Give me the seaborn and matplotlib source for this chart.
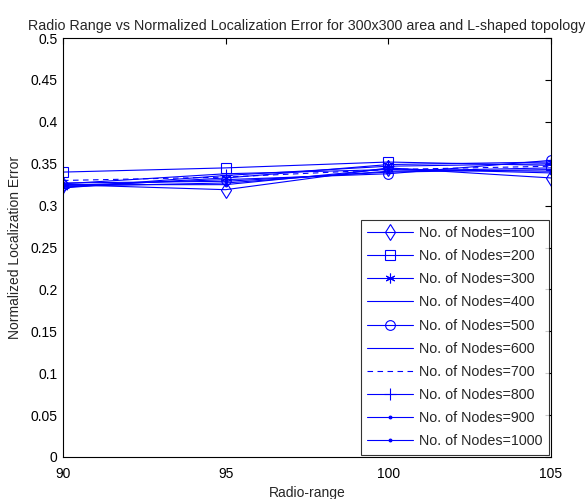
import numpy as np
import pandas as pd
import matplotlib
matplotlib.use("Agg")
import matplotlib.pyplot as plt
import seaborn as sns

# radio range on x axis
radio_range = [90, 95, 100, 105]

# normalized localization error per node count
err_100 = [0.325, 0.319, 0.345, 0.333]
err_200 = [0.340, 0.345, 0.352, 0.348]
err_300 = [0.322, 0.333, 0.349, 0.352]
err_400 = [0.326, 0.338, 0.343, 0.341]
err_500 = [0.324, 0.331, 0.338, 0.354]
err_600 = [0.323, 0.327, 0.341, 0.345]
err_700 = [0.330, 0.334, 0.343, 0.347]
err_800 = [0.321, 0.336, 0.347, 0.350]
err_900 = [0.327, 0.329, 0.340, 0.343]
err_1000 = [0.325, 0.325, 0.344, 0.339]

nodes = [100, 200, 300, 400, 500, 600, 700, 800, 900, 1000]
errors = [err_100, err_200, err_300, err_400, err_500,
          err_600, err_700, err_800, err_900, err_1000]

rows = []
for n, e in zip(nodes, errors):
    for r, v in zip(radio_range, e):
        rows.append({"range": r, "err": v, "label": f"No. of Nodes={n}"})
df = pd.DataFrame(rows)

sns.set_style("white")
plt.rcParams['font.family'] = ['Liberation Sans', 'DejaVu Sans']

# matlab-ish line specs
styles = {
    100: dict(marker='d', ls='-', ms=8),
    200: dict(marker='s', ls='-', ms=7),
    300: dict(marker=(6, 2, 0), ls='-', ms=7),
    400: dict(marker=None, ls='-', ms=0),
    500: dict(marker='o', ls='-', ms=7),
    600: dict(marker=None, ls='-', ms=0),
    700: dict(marker=None, ls=(0, (5, 4)), ms=0),
    800: dict(marker='+', ls='-', ms=8),
    900: dict(marker='.', ls='-', ms=4),
    1000: dict(marker='.', ls='-', ms=4),
}

fig = plt.figure(figsize=(5.85, 4.99), dpi=100)
ax = fig.add_axes([63/585, 1-457/499, (551-63)/585, (457-38)/499])

for n in nodes:
    st = styles[n]
    sub = df[df["label"] == f"No. of Nodes={n}"]
    filled = st['marker'] == '.'
    sns.lineplot(data=sub, x="range", y="err", ax=ax, color='blue',
                 linewidth=0.8, linestyle=st['ls'], marker=st['marker'],
                 markersize=st['ms'], markerfacecolor='blue' if filled else 'none',
                 markeredgecolor='blue', markeredgewidth=0.8,
                 label=f"No. of Nodes={n}")

ax.set_xlim(90, 105)
ax.set_ylim(0, 0.5)
ax.set_xticks([90, 95, 100, 105])
ax.set_xticklabels(['90', '95', '100', '105'])
yt = [0, 0.05, 0.1, 0.15, 0.2, 0.25, 0.3, 0.35, 0.4, 0.45, 0.5]
ax.set_yticks(yt)
ax.set_yticklabels(['0', '0.05', '0.1', '0.15', '0.2', '0.25', '0.3', '0.35', '0.4', '0.45', '0.5'])
ax.tick_params(direction='in', length=4, width=0.8, top=True, right=True,
               labelsize=10, colors='black')
ax.tick_params(axis='x', pad=7)
ax.tick_params(axis='y', pad=4)
for sp in ax.spines.values():
    sp.set_visible(True)
    sp.set_color('black')
    sp.set_linewidth(0.8)

ax.set_title("Radio Range vs Normalized Localization Error for 300x300 area and L-shaped topology",
             fontsize=10.3, pad=6)
ax.set_xlabel("Radio-range", fontsize=10, labelpad=4)
ax.set_ylabel("Normalized Localization Error", fontsize=10, labelpad=6)

leg = ax.legend(loc='lower right', fontsize=10.3, frameon=True, fancybox=False,
                borderaxespad=0.15, handlelength=3.2, handletextpad=0.4,
                labelspacing=0.64, borderpad=0.45)
leg.get_frame().set_edgecolor('black')
leg.get_frame().set_linewidth(0.8)

fig.savefig("out.png", dpi=100)
